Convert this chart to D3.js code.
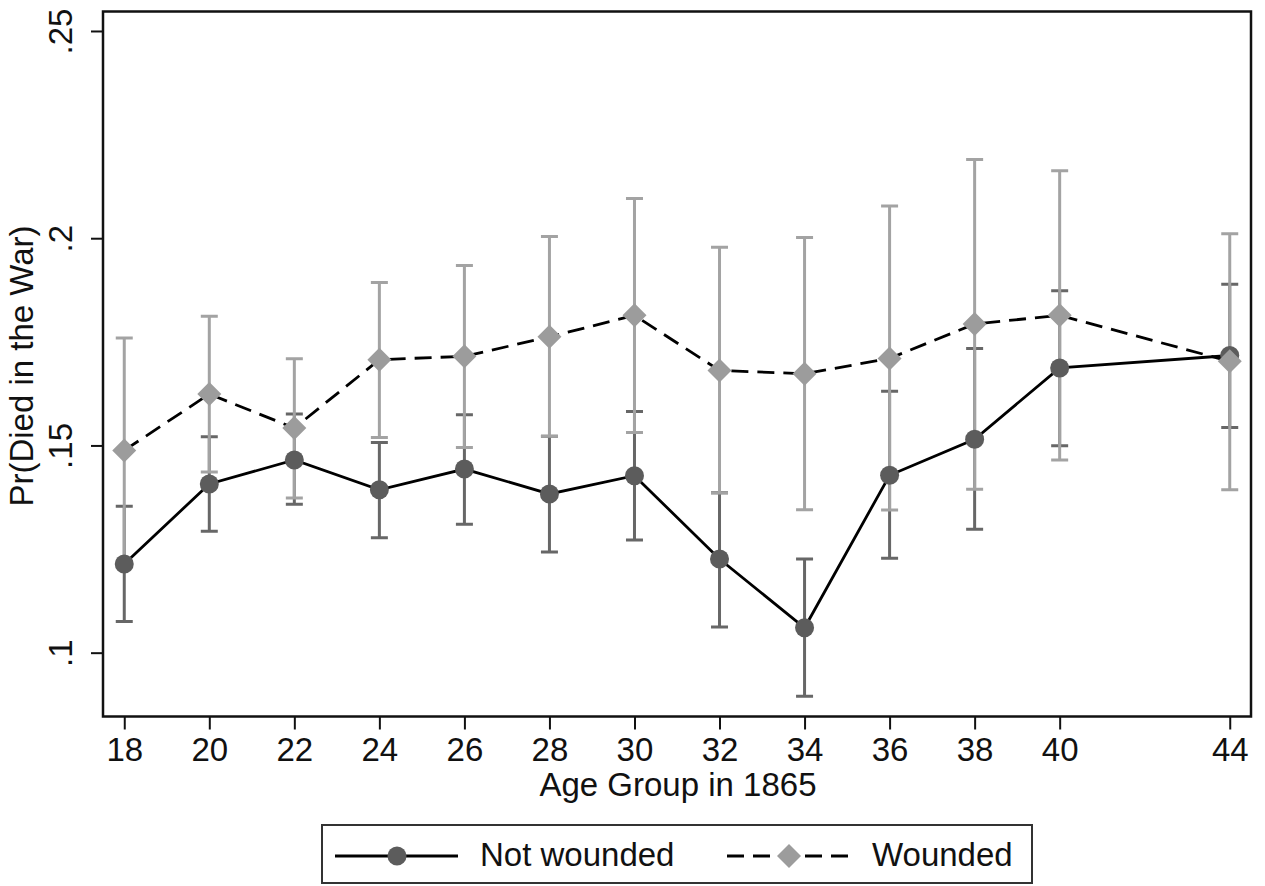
<!DOCTYPE html>
<html>
<head>
<meta charset="utf-8">
<script src="https://cdn.jsdelivr.net/npm/d3@7.9.0/dist/d3.min.js"></script>
<style>
  html, body { margin: 0; padding: 0; background: #fff; }
  svg { display: block; font-family: "Liberation Sans", Arial, Helvetica, sans-serif; }
</style>
</head>
<body>
<svg id="chart" width="1265" height="886"></svg>
<script>
// age groups on the x axis
const ages = [18, 20, 22, 24, 26, 28, 30, 32, 34, 36, 38, 40, 44];

// not wounded: point estimate and 95% CI
const notWounded   = [0.1214, 0.1407, 0.1465, 0.1393, 0.1443, 0.1383, 0.1427, 0.1226, 0.1060, 0.1428, 0.1515, 0.1687, 0.1717];
const notWoundedLo = [0.1075, 0.1293, 0.1358, 0.1277, 0.1310, 0.1243, 0.1272, 0.1062, 0.0895, 0.1228, 0.1298, 0.1499, 0.1543];
const notWoundedHi = [0.1353, 0.1521, 0.1576, 0.1507, 0.1574, 0.1522, 0.1582, 0.1386, 0.1226, 0.1631, 0.1734, 0.1873, 0.1889];

// wounded: point estimate and 95% CI
const wounded   = [0.1488, 0.1624, 0.1542, 0.1707, 0.1715, 0.1762, 0.1814, 0.1681, 0.1673, 0.1710, 0.1793, 0.1814, 0.1703];
const woundedLo = [0.1217, 0.1436, 0.1373, 0.1519, 0.1495, 0.1522, 0.1531, 0.1385, 0.1345, 0.1344, 0.1394, 0.1465, 0.1393];
const woundedHi = [0.1759, 0.1812, 0.1709, 0.1893, 0.1934, 0.2004, 0.2096, 0.1978, 0.2002, 0.2078, 0.2190, 0.2163, 0.2011];

const yTicks = [0.1, 0.15, 0.2, 0.25];

// plot frame
const plotLeft = 103, plotRight = 1251, plotTop = 11.5, plotBottom = 716.5;
const fontSize = 33;

const svg = d3.select('#chart');

const x = d3.scaleLinear().domain([17.5, 44.5]).range([plotLeft, plotRight]);
const y = d3.scaleLinear().domain([0.0846, 0.2547]).range([plotBottom, plotTop]);

const darkGray = '#5c5c5c';
const darkBar = '#676767';
const lightGray = '#9c9c9c';
const lightBar = '#a3a3a3';

// y axis
const yAxis = svg.append('g')
  .attr('transform', `translate(${plotLeft},0)`)
  .call(d3.axisLeft(y)
    .tickValues(yTicks)
    .tickSize(12)
    .tickSizeOuter(0)
    .tickFormat(d => d3.format('.2~f')(d).replace(/^0/, '')));
yAxis.select('.domain').remove();
yAxis.selectAll('line').attr('stroke', '#111').attr('stroke-width', 2);
yAxis.selectAll('text')
  .attr('transform', 'rotate(-90)')
  .attr('x', 0).attr('y', -31).attr('dy', 0)
  .attr('text-anchor', 'middle')
  .attr('font-size', fontSize)
  .attr('font-family', '"Liberation Sans", Arial, sans-serif')
  .attr('fill', '#111');

// x axis
const xAxis = svg.append('g')
  .attr('transform', `translate(0,${plotBottom})`)
  .call(d3.axisBottom(x)
    .tickValues(ages)
    .tickSize(13)
    .tickSizeOuter(0)
    .tickFormat(d3.format('d')));
xAxis.select('.domain').remove();
xAxis.selectAll('line').attr('stroke', '#111').attr('stroke-width', 2);
xAxis.selectAll('text')
  .attr('y', 44).attr('dy', 0)
  .attr('font-size', fontSize)
  .attr('font-family', '"Liberation Sans", Arial, sans-serif')
  .attr('fill', '#111');

// axis titles
svg.append('text')
  .attr('x', (plotLeft + plotRight) / 2 + 1).attr('y', 796)
  .attr('text-anchor', 'middle')
  .attr('font-size', fontSize)
  .attr('fill', '#111')
  .text('Age Group in 1865');

svg.append('text')
  .attr('transform', 'translate(33,366) rotate(-90)')
  .attr('text-anchor', 'middle')
  .attr('font-size', fontSize)
  .attr('fill', '#111')
  .text('Pr(Died in the War)');

// error bars with caps
function capPath(xv, lo, hi) {
  const cx = x(xv), w = 8.5;
  return `M${cx},${y(lo)}V${y(hi)}M${cx - w},${y(lo)}H${cx + w}M${cx - w},${y(hi)}H${cx + w}`;
}

svg.append('g').selectAll('path')
  .data(ages)
  .join('path')
  .attr('d', (d, i) => capPath(d, notWoundedLo[i], notWoundedHi[i]))
  .attr('fill', 'none')
  .attr('stroke', darkBar)
  .attr('stroke-width', 3);

svg.append('g').selectAll('path')
  .data(ages)
  .join('path')
  .attr('d', (d, i) => capPath(d, woundedLo[i], woundedHi[i]))
  .attr('fill', 'none')
  .attr('stroke', lightBar)
  .attr('stroke-width', 3);

// not wounded line + circles
const line = d3.line().x(d => x(d[0])).y(d => y(d[1]));

svg.append('path')
  .datum(ages.map((a, i) => [a, notWounded[i]]))
  .attr('d', line)
  .attr('fill', 'none')
  .attr('stroke', '#000')
  .attr('stroke-width', 2.8);

svg.append('g').selectAll('circle')
  .data(ages)
  .join('circle')
  .attr('cx', d => x(d))
  .attr('cy', (d, i) => y(notWounded[i]))
  .attr('r', 9.5)
  .attr('fill', darkGray);

// wounded dashed line + diamonds
svg.append('path')
  .datum(ages.map((a, i) => [a, wounded[i]]))
  .attr('d', line)
  .attr('fill', 'none')
  .attr('stroke', '#000')
  .attr('stroke-width', 2.8)
  .attr('stroke-dasharray', '17,9');

const diamond = (cx, cy, s) => `M${cx},${cy - s}L${cx + s},${cy}L${cx},${cy + s}L${cx - s},${cy}Z`;

svg.append('g').selectAll('path')
  .data(ages)
  .join('path')
  .attr('d', (d, i) => diamond(x(d), y(wounded[i]), 12))
  .attr('fill', lightGray);

// frame
svg.append('rect')
  .attr('x', plotLeft).attr('y', plotTop)
  .attr('width', plotRight - plotLeft).attr('height', plotBottom - plotTop)
  .attr('fill', 'none')
  .attr('stroke', '#111')
  .attr('stroke-width', 2.5);

// legend
const legend = svg.append('g');
legend.append('rect')
  .attr('x', 322).attr('y', 825)
  .attr('width', 710).attr('height', 58)
  .attr('fill', '#fff')
  .attr('stroke', '#333')
  .attr('stroke-width', 2);

legend.append('line')
  .attr('x1', 335).attr('x2', 458).attr('y1', 856).attr('y2', 856)
  .attr('stroke', '#000').attr('stroke-width', 2.8);
legend.append('circle')
  .attr('cx', 397).attr('cy', 856).attr('r', 9.5)
  .attr('fill', darkGray);
legend.append('text')
  .attr('x', 480).attr('y', 866)
  .attr('font-size', fontSize).attr('fill', '#111')
  .text('Not wounded');

legend.append('line')
  .attr('x1', 727).attr('x2', 852).attr('y1', 856).attr('y2', 856)
  .attr('stroke', '#000').attr('stroke-width', 2.8)
  .attr('stroke-dasharray', '17,9');
legend.append('path')
  .attr('d', diamond(789, 856, 12))
  .attr('fill', lightGray);
legend.append('text')
  .attr('x', 872).attr('y', 866)
  .attr('font-size', fontSize).attr('fill', '#111')
  .text('Wounded');
</script>
</body>
</html>
